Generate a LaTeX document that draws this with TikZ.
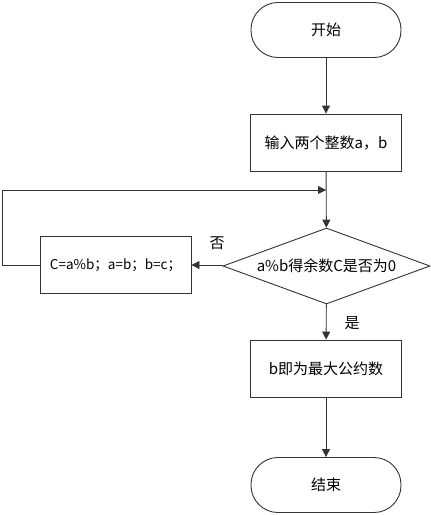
\documentclass[tikz,border=0pt]{standalone}
\usepackage{fontspec}
\setmainfont{Noto Sans CJK SC}
\usetikzlibrary{shapes.geometric,arrows.meta}
\tikzset{
  term/.style={draw, rounded corners=27pt, minimum width=150pt, minimum height=55pt, inner sep=0pt},
  proc/.style={draw, minimum width=151pt, minimum height=57pt, inner sep=0pt},
  cond/.style={draw, diamond, aspect=2.7, minimum width=207pt, minimum height=76pt, inner sep=0pt},
  flow/.style={-{Triangle[length=8pt,width=8pt]}}
}
\begin{document}
\begin{tikzpicture}[x=1pt, y=1pt, line width=0.9pt, draw=black!80, font=\fontsize{15}{18}\selectfont]
      \useasboundingbox (0,0) rectangle (431,-515);
      \node[term] (start) at (326,-30) {开始};
      \node[proc] (input) at (326,-142.5) {输入两个整数a，b};
      \node[cond] (test) at (326.5,-266) {a\%b得余数C是否为0};
      \node[proc, font=\fontsize{13.5}{16}\selectfont] (calc) at (115.5,-265) {C=a\%b；a=b；b=c；};
      \node[proc] (result) at (326,-368.5) {b即为最大公约数};
      \node[term] (stop) at (326,-485) {结束};
      \coordinate (join) at (326,-190);
      \coordinate (back) at (2,-190);
      \draw[flow] (start) -- (input);
      \draw[flow] (input) -- (test);
      \draw[flow] (test.west) -- (calc.east -| test.west) -- (calc.east);
      \draw[flow] (calc.west) -- (calc.west -| back) -- (back) -- (join);
      \draw[flow] (test) -- (result);
      \draw[flow] (result) -- (stop);
      \node (no) at (217,-243) {否};
      \node (yes) at (352,-323) {是};
   \end{tikzpicture}
\end{document}
